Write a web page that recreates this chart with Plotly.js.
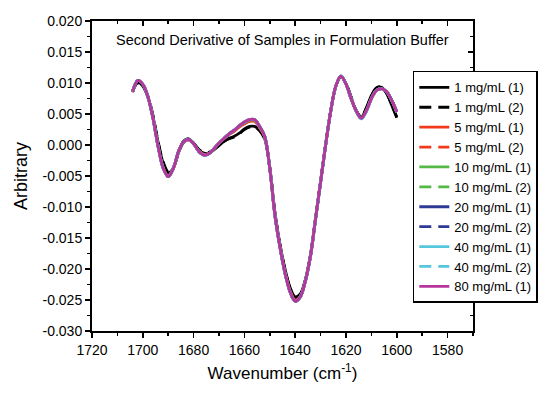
<!DOCTYPE html>
<html>
<head>
<meta charset="utf-8">
<script src="https://cdn.plot.ly/plotly-3.0.1.min.js"></script>
<style>html,body{margin:0;padding:0;background:#fff;}#chart{width:550px;height:397px;}</style>
</head>
<body>
<div id="chart"></div>
<script>
const wavenumber = [1704,1702,1700,1698,1696,1694,1692,1690,1688,1686,1684,1682,1680,1678,1676,1674,1672,1670,1668,1666,1664,1662,1660,1658,1656,1654,1652,1650,1648,1646,1644,1642,1640,1638,1636,1634,1632,1630,1628,1626,1624,1622,1620,1618,1616,1614,1612,1610,1608,1606,1604,1602,1600];

const c1a = [0.0088,0.0101,0.0095,0.0077,0.0046,0.0005,-0.0029,-0.0045,-0.0037,-0.0013,0.0006,0.0010,0.0003,-0.0008,-0.0013,-0.0013,-0.0008,-0.0001,0.0006,0.0011,0.0014,0.0019,0.0026,0.0030,0.0030,0.0024,0.0010,-0.0036,-0.0108,-0.0160,-0.0200,-0.0230,-0.0245,-0.0240,-0.0217,-0.0177,-0.0118,-0.0058,0.0002,0.0056,0.0095,0.0111,0.0099,0.0077,0.0055,0.0045,0.0060,0.0080,0.0092,0.0093,0.0083,0.0064,0.0044];
const c1b = [0.0086,0.0100,0.0096,0.0079,0.0048,0.0006,-0.0027,-0.0043,-0.0036,-0.0014,0.0004,0.0009,0.0003,-0.0007,-0.0012,-0.0012,-0.0007,0.0000,0.0006,0.0010,0.0013,0.0018,0.0025,0.0029,0.0029,0.0023,0.0009,-0.0037,-0.0109,-0.0161,-0.0201,-0.0231,-0.0246,-0.0241,-0.0218,-0.0178,-0.0119,-0.0059,0.0001,0.0055,0.0094,0.0110,0.0099,0.0078,0.0056,0.0045,0.0059,0.0079,0.0092,0.0094,0.0084,0.0065,0.0045];
const c5a = [0.0086,0.0104,0.0098,0.0078,0.0044,-0.0001,-0.0036,-0.0050,-0.0038,-0.0012,0.0005,0.0009,0.0002,-0.0010,-0.0015,-0.0014,-0.0006,0.0003,0.0010,0.0017,0.0022,0.0029,0.0034,0.0038,0.0038,0.0028,0.0013,-0.0038,-0.0112,-0.0164,-0.0205,-0.0235,-0.0250,-0.0244,-0.0219,-0.0179,-0.0119,-0.0059,0.0001,0.0055,0.0095,0.0111,0.0098,0.0075,0.0055,0.0043,0.0055,0.0075,0.0088,0.0091,0.0086,0.0072,0.0054];
const c5b = [0.0085,0.0103,0.0098,0.0078,0.0044,-0.0001,-0.0036,-0.0049,-0.0037,-0.0012,0.0005,0.0008,0.0002,-0.0009,-0.0015,-0.0013,-0.0006,0.0003,0.0010,0.0017,0.0023,0.0030,0.0035,0.0039,0.0039,0.0028,0.0013,-0.0038,-0.0112,-0.0164,-0.0205,-0.0235,-0.0250,-0.0244,-0.0219,-0.0179,-0.0119,-0.0059,0.0001,0.0055,0.0095,0.0111,0.0098,0.0075,0.0055,0.0043,0.0055,0.0075,0.0088,0.0091,0.0086,0.0072,0.0054];
const c10a = [0.0086,0.0104,0.0098,0.0078,0.0043,-0.0002,-0.0037,-0.0051,-0.0038,-0.0011,0.0005,0.0009,0.0002,-0.0010,-0.0016,-0.0014,-0.0006,0.0003,0.0011,0.0018,0.0024,0.0031,0.0036,0.0040,0.0040,0.0029,0.0014,-0.0038,-0.0113,-0.0165,-0.0207,-0.0237,-0.0252,-0.0245,-0.0220,-0.0180,-0.0120,-0.0060,0.0000,0.0055,0.0095,0.0111,0.0098,0.0075,0.0055,0.0043,0.0055,0.0075,0.0088,0.0091,0.0086,0.0072,0.0053];
const c10b = [0.0086,0.0104,0.0098,0.0078,0.0043,-0.0002,-0.0037,-0.0051,-0.0038,-0.0011,0.0005,0.0009,0.0002,-0.0010,-0.0016,-0.0014,-0.0006,0.0003,0.0011,0.0018,0.0024,0.0031,0.0037,0.0041,0.0041,0.0029,0.0014,-0.0038,-0.0113,-0.0165,-0.0207,-0.0237,-0.0252,-0.0245,-0.0220,-0.0180,-0.0120,-0.0060,0.0000,0.0055,0.0095,0.0111,0.0098,0.0075,0.0055,0.0043,0.0055,0.0075,0.0088,0.0091,0.0086,0.0072,0.0053];
const c20a = [0.0086,0.0104,0.0098,0.0078,0.0043,-0.0002,-0.0037,-0.0051,-0.0038,-0.0011,0.0005,0.0009,0.0002,-0.0010,-0.0016,-0.0014,-0.0006,0.0003,0.0011,0.0018,0.0024,0.0031,0.0037,0.0041,0.0041,0.0030,0.0014,-0.0038,-0.0113,-0.0165,-0.0207,-0.0237,-0.0252,-0.0245,-0.0220,-0.0180,-0.0120,-0.0060,0.0000,0.0055,0.0095,0.0111,0.0098,0.0075,0.0055,0.0043,0.0055,0.0075,0.0088,0.0091,0.0086,0.0072,0.0053];
const c20b = [0.0086,0.0104,0.0098,0.0078,0.0043,-0.0002,-0.0037,-0.0051,-0.0038,-0.0011,0.0005,0.0009,0.0002,-0.0010,-0.0016,-0.0014,-0.0006,0.0003,0.0011,0.0018,0.0024,0.0031,0.0037,0.0041,0.0041,0.0030,0.0014,-0.0038,-0.0113,-0.0165,-0.0207,-0.0237,-0.0252,-0.0245,-0.0220,-0.0180,-0.0120,-0.0060,0.0000,0.0055,0.0095,0.0111,0.0098,0.0075,0.0055,0.0043,0.0055,0.0075,0.0088,0.0091,0.0086,0.0072,0.0053];
const c40a = [0.0086,0.0104,0.0098,0.0078,0.0043,-0.0002,-0.0037,-0.0051,-0.0038,-0.0011,0.0005,0.0009,0.0002,-0.0010,-0.0016,-0.0014,-0.0006,0.0003,0.0011,0.0018,0.0024,0.0031,0.0037,0.0041,0.0041,0.0030,0.0014,-0.0038,-0.0113,-0.0165,-0.0207,-0.0237,-0.0252,-0.0245,-0.0220,-0.0180,-0.0120,-0.0060,0.0000,0.0055,0.0095,0.0111,0.0098,0.0075,0.0055,0.0042,0.0054,0.0075,0.0088,0.0091,0.0086,0.0072,0.0053];
const c40b = [0.0086,0.0104,0.0098,0.0078,0.0043,-0.0002,-0.0037,-0.0051,-0.0038,-0.0011,0.0005,0.0009,0.0002,-0.0010,-0.0016,-0.0014,-0.0006,0.0003,0.0011,0.0018,0.0024,0.0031,0.0037,0.0041,0.0041,0.0030,0.0014,-0.0038,-0.0113,-0.0165,-0.0207,-0.0237,-0.0252,-0.0245,-0.0220,-0.0180,-0.0120,-0.0060,0.0000,0.0055,0.0095,0.0111,0.0098,0.0075,0.0055,0.0042,0.0054,0.0075,0.0088,0.0091,0.0086,0.0072,0.0053];
const c80a = [0.0086,0.0104,0.0098,0.0078,0.0043,-0.0002,-0.0037,-0.0051,-0.0038,-0.0011,0.0005,0.0009,0.0002,-0.0010,-0.0016,-0.0014,-0.0006,0.0003,0.0011,0.0018,0.0024,0.0031,0.0037,0.0041,0.0041,0.0030,0.0014,-0.0038,-0.0113,-0.0165,-0.0207,-0.0237,-0.0252,-0.0245,-0.0220,-0.0180,-0.0120,-0.0060,0.0000,0.0055,0.0095,0.0111,0.0098,0.0075,0.0055,0.0043,0.0055,0.0075,0.0088,0.0091,0.0086,0.0072,0.0053];

const seriesNames = ["1 mg/mL (1)","1 mg/mL (2)","5 mg/mL (1)","5 mg/mL (2)","10 mg/mL (1)","10 mg/mL (2)","20 mg/mL (1)","20 mg/mL (2)","40 mg/mL (1)","40 mg/mL (2)","80 mg/mL (1)"];
const seriesValues = [c1a,c1b,c5a,c5b,c10a,c10b,c20a,c20b,c40a,c40b,c80a];
const seriesColors = ["#000000","#000000","#f2391c","#f2391c","#55b947","#55b947","#2e3b94","#2e3b94","#55c6dc","#55c6dc","#b8359e"];
const seriesDash = ["solid","12px,7px","solid","12px,7px","solid","12px,7px","solid","12px,7px","solid","12px,7px","solid"];

const yTickVals = [-0.030,-0.025,-0.020,-0.015,-0.010,-0.005,0.000,0.005,0.010,0.015,0.020];
const yTickText = ["-0.030","-0.025","-0.020","-0.015","-0.010","-0.005","0.000","0.005","0.010","0.015","0.020"];
const xTickVals = [1720,1700,1680,1660,1640,1620,1600,1580];

const chartTitle = "Second Derivative of Samples in Formulation Buffer";
const xTitle = "Wavenumber (cm<sup>-1</sup>)";
const yTitle = "Arbitrary";

const FONT = "Liberation Sans, Arial, sans-serif";

const traces = seriesNames.map((name, i) => ({
  type: "scatter", mode: "lines", name: name,
  x: wavenumber, y: seriesValues[i],
  line: {color: seriesColors[i], width: 2.8, dash: seriesDash[i], shape: "spline", smoothing: 1},
  hoverinfo: "skip"
}));
traces.push({type:"scatter", mode:"lines", x:[], y:[], xaxis:"x2", yaxis:"y2", showlegend:false, hoverinfo:"skip"});

const xr = [1720, 1570], yr = [-0.030, 0.020];
const layout = {
  width: 550, height: 397,
  margin: {l: 92, r: 72, t: 21, b: 66},
  paper_bgcolor: "#fff", plot_bgcolor: "#fff",
  font: {family: FONT, color: "#000", size: 14},
  showlegend: true,
  xaxis: {
    range: xr, tickvals: xTickVals, ticks: "outside", ticklen: 5, tickwidth: 1.5, tickcolor: "#000",
    minor: {ticks: "outside", ticklen: 3, tickwidth: 1.5, dtick: 10, tick0: 1720, tickcolor: "#000"},
    showline: true, linewidth: 2, linecolor: "#000", showgrid: false, zeroline: false,
    tickfont: {size: 14, family: FONT},
    title: {text: xTitle, font: {size: 17, family: FONT}, standoff: 10}
  },
  yaxis: {
    range: yr, tickvals: yTickVals, ticktext: yTickText, ticks: "outside", ticklen: 5, tickwidth: 1.5, tickcolor: "#000",
    minor: {ticks: "outside", ticklen: 3, tickwidth: 1.5, dtick: 0.0025, tick0: 0, tickcolor: "#000"},
    showline: true, linewidth: 2, linecolor: "#000", showgrid: false, zeroline: false,
    tickfont: {size: 14, family: FONT},
    title: {text: yTitle, font: {size: 18, family: FONT}, standoff: 10}
  },
  xaxis2: {
    overlaying: "x", side: "top", anchor: "y2", range: xr, tickvals: xTickVals, ticks: "inside", ticklen: 5, tickwidth: 1.5, tickcolor: "#000",
    minor: {ticks: "inside", ticklen: 3, tickwidth: 1.5, dtick: 10, tick0: 1720, tickcolor: "#000"},
    showticklabels: false, showline: true, linewidth: 2, linecolor: "#000", showgrid: false, zeroline: false
  },
  yaxis2: {
    overlaying: "y", side: "right", anchor: "x2", range: yr, tickvals: yTickVals, ticks: "inside", ticklen: 5, tickwidth: 1.5, tickcolor: "#000",
    minor: {ticks: "inside", ticklen: 3, tickwidth: 1.5, dtick: 0.0025, tick0: 0, tickcolor: "#000"},
    showticklabels: false, showline: true, linewidth: 2, linecolor: "#000", showgrid: false, zeroline: false
  },
  legend: {
    x: 0.842, y: 0.839, xanchor: "left", yanchor: "top",
    bgcolor: "#fff", bordercolor: "#000", borderwidth: 1.5,
    font: {size: 13, family: FONT, color: "#000"},
    tracegroupgap: 0, traceorder: "normal"
  },
  annotations: [{
    text: chartTitle, xref: "paper", yref: "paper", x: 0.5, y: 0.939,
    xanchor: "center", yanchor: "middle", showarrow: false,
    font: {size: 14.5, family: FONT, color: "#000"}
  }]
};

Plotly.newPlot("chart", traces, layout, {staticPlot: true, displayModeBar: false});
</script>
</body>
</html>
